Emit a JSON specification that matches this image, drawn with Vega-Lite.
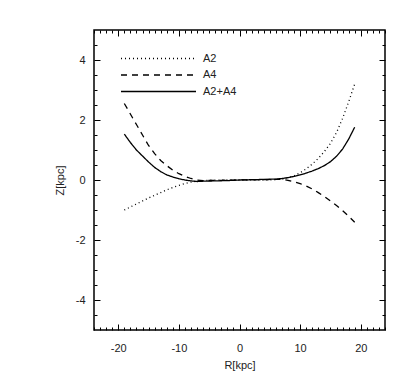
{
  "$schema": "https://vega.github.io/schema/vega-lite/v6.json",
  "autosize": {"type": "none"},
  "width": 291,
  "height": 300,
  "padding": {"left": 94, "top": 30, "right": 30, "bottom": 60},
  "background": "white",
  "config": {
    "view": {"stroke": "black", "strokeWidth": 1.5},
    "font": "Liberation Sans",
    "axis": {"domain": false, "grid": false, "labelFont": "Liberation Sans", "labelFontSize": 11, "labelColor": "#222", "titleFont": "Liberation Sans", "titleFontSize": 11, "titleFontWeight": "normal", "titleColor": "#222"}
  },
  "data": {"values": [
    {"series": "A2", "R": -19, "Z": -1.0}, {"series": "A2", "R": -18, "Z": -0.9}, {"series": "A2", "R": -17, "Z": -0.8}, {"series": "A2", "R": -16, "Z": -0.7}, {"series": "A2", "R": -15, "Z": -0.6}, {"series": "A2", "R": -14, "Z": -0.51}, {"series": "A2", "R": -13, "Z": -0.42}, {"series": "A2", "R": -12, "Z": -0.33}, {"series": "A2", "R": -11, "Z": -0.25}, {"series": "A2", "R": -10, "Z": -0.18}, {"series": "A2", "R": -9, "Z": -0.12}, {"series": "A2", "R": -8, "Z": -0.07}, {"series": "A2", "R": -7, "Z": -0.04}, {"series": "A2", "R": -6, "Z": -0.02}, {"series": "A2", "R": -5, "Z": -0.01}, {"series": "A2", "R": -3, "Z": 0.0}, {"series": "A2", "R": 0, "Z": 0.0}, {"series": "A2", "R": 3, "Z": 0.0}, {"series": "A2", "R": 5, "Z": 0.0}, {"series": "A2", "R": 6, "Z": 0.01}, {"series": "A2", "R": 7, "Z": 0.03}, {"series": "A2", "R": 8, "Z": 0.07}, {"series": "A2", "R": 9, "Z": 0.14}, {"series": "A2", "R": 10, "Z": 0.24}, {"series": "A2", "R": 11, "Z": 0.37}, {"series": "A2", "R": 12, "Z": 0.53}, {"series": "A2", "R": 13, "Z": 0.72}, {"series": "A2", "R": 14, "Z": 0.95}, {"series": "A2", "R": 15, "Z": 1.22}, {"series": "A2", "R": 16, "Z": 1.58}, {"series": "A2", "R": 17, "Z": 2.05}, {"series": "A2", "R": 18, "Z": 2.6}, {"series": "A2", "R": 19, "Z": 3.2},
    {"series": "A4", "R": -19, "Z": 2.55}, {"series": "A4", "R": -18, "Z": 2.2}, {"series": "A4", "R": -17, "Z": 1.85}, {"series": "A4", "R": -16, "Z": 1.5}, {"series": "A4", "R": -15, "Z": 1.15}, {"series": "A4", "R": -14, "Z": 0.88}, {"series": "A4", "R": -13, "Z": 0.65}, {"series": "A4", "R": -12, "Z": 0.48}, {"series": "A4", "R": -11, "Z": 0.33}, {"series": "A4", "R": -10, "Z": 0.21}, {"series": "A4", "R": -9, "Z": 0.12}, {"series": "A4", "R": -8, "Z": 0.05}, {"series": "A4", "R": -7, "Z": 0.0}, {"series": "A4", "R": -6, "Z": -0.02}, {"series": "A4", "R": -3, "Z": -0.01}, {"series": "A4", "R": 0, "Z": 0.0}, {"series": "A4", "R": 3, "Z": 0.01}, {"series": "A4", "R": 6, "Z": 0.02}, {"series": "A4", "R": 7, "Z": 0.02}, {"series": "A4", "R": 8, "Z": -0.01}, {"series": "A4", "R": 9, "Z": -0.06}, {"series": "A4", "R": 10, "Z": -0.12}, {"series": "A4", "R": 11, "Z": -0.2}, {"series": "A4", "R": 12, "Z": -0.3}, {"series": "A4", "R": 13, "Z": -0.42}, {"series": "A4", "R": 14, "Z": -0.55}, {"series": "A4", "R": 15, "Z": -0.7}, {"series": "A4", "R": 16, "Z": -0.85}, {"series": "A4", "R": 17, "Z": -1.02}, {"series": "A4", "R": 18, "Z": -1.21}, {"series": "A4", "R": 19, "Z": -1.41},
    {"series": "A2+A4", "R": -19, "Z": 1.53}, {"series": "A2+A4", "R": -18, "Z": 1.25}, {"series": "A2+A4", "R": -17, "Z": 1.0}, {"series": "A2+A4", "R": -16, "Z": 0.8}, {"series": "A2+A4", "R": -15, "Z": 0.6}, {"series": "A2+A4", "R": -14, "Z": 0.42}, {"series": "A2+A4", "R": -13, "Z": 0.28}, {"series": "A2+A4", "R": -12, "Z": 0.17}, {"series": "A2+A4", "R": -11, "Z": 0.1}, {"series": "A2+A4", "R": -10, "Z": 0.04}, {"series": "A2+A4", "R": -9, "Z": 0.0}, {"series": "A2+A4", "R": -8, "Z": -0.03}, {"series": "A2+A4", "R": -7, "Z": -0.05}, {"series": "A2+A4", "R": -6, "Z": -0.04}, {"series": "A2+A4", "R": -4, "Z": -0.03}, {"series": "A2+A4", "R": -2, "Z": -0.02}, {"series": "A2+A4", "R": 0, "Z": 0.0}, {"series": "A2+A4", "R": 2, "Z": 0.01}, {"series": "A2+A4", "R": 4, "Z": 0.02}, {"series": "A2+A4", "R": 6, "Z": 0.03}, {"series": "A2+A4", "R": 7, "Z": 0.05}, {"series": "A2+A4", "R": 8, "Z": 0.08}, {"series": "A2+A4", "R": 9, "Z": 0.12}, {"series": "A2+A4", "R": 10, "Z": 0.17}, {"series": "A2+A4", "R": 11, "Z": 0.23}, {"series": "A2+A4", "R": 12, "Z": 0.3}, {"series": "A2+A4", "R": 13, "Z": 0.38}, {"series": "A2+A4", "R": 14, "Z": 0.48}, {"series": "A2+A4", "R": 15, "Z": 0.61}, {"series": "A2+A4", "R": 16, "Z": 0.79}, {"series": "A2+A4", "R": 17, "Z": 1.03}, {"series": "A2+A4", "R": 18, "Z": 1.36}, {"series": "A2+A4", "R": 19, "Z": 1.76}
  ]},
  "layer": [
    {
      "mark": {"type": "line", "color": "black", "clip": true},
      "encoding": {
        "x": {"field": "R", "type": "quantitative", "scale": {"domain": [-24, 24], "nice": false, "zero": false},
          "axis": {"orient": "bottom", "title": "R[kpc]", "titlePadding": 6, "offset": -6, "ticks": true, "tickSize": 6, "tickColor": "black", "tickWidth": 1,
            "values": [-20, -10, 0, 10, 20],
            "labelExpr": "'' + datum.value",
            "labelPadding": 12, "labelFlush": false, "labelOverlap": false}},
        "y": {"field": "Z", "type": "quantitative", "scale": {"domain": [-5, 5], "nice": false, "zero": false},
          "axis": {"orient": "left", "title": "Z[kpc]", "titlePadding": 10, "offset": -6, "ticks": true, "tickSize": 6, "tickColor": "black", "tickWidth": 1,
            "values": [-4, -2, 0, 2, 4],
            "labelExpr": "'' + datum.value",
            "labelPadding": 9, "labelFlush": false, "labelOverlap": false}},
        "strokeDash": {"field": "series", "type": "nominal",
          "scale": {"domain": ["A2", "A4", "A2+A4"], "range": [[1, 3], [6, 5], [1, 0]]},
          "legend": {"title": null, "orient": "none", "legendX": 59, "legendY": 23, "symbolType": "M-15,0H15", "symbolSize": 25, "symbolStrokeWidth": 1, "symbolStrokeColor": "black", "rowPadding": 4.5, "labelOffset": 39, "labelFont": "Liberation Sans", "labelFontSize": 11, "labelColor": "#222", "padding": 0}},
        "strokeWidth": {"field": "series", "type": "nominal",
          "scale": {"domain": ["A2", "A4", "A2+A4"], "range": [1.3, 1.3, 3]}, "legend": null},
        "order": {"field": "R", "type": "quantitative"}
      }
    },
    {
      "mark": {"type": "point", "opacity": 0},
      "encoding": {
        "x": {"field": "R", "type": "quantitative", "scale": {"domain": [-24, 24], "nice": false, "zero": false},
          "axis": {"orient": "top", "title": null, "labels": false, "offset": -6, "ticks": true, "tickSize": 6, "tickColor": "black", "tickWidth": 1,
            "values": [-20, -10, 0, 10, 20]}},
        "y": {"field": "Z", "type": "quantitative", "scale": {"domain": [-5, 5], "nice": false, "zero": false},
          "axis": {"orient": "right", "title": null, "labels": false, "offset": -6, "ticks": true, "tickSize": 6, "tickColor": "black", "tickWidth": 1,
            "values": [-4, -2, 0, 2, 4]}}
      }
    },
    {
      "mark": {"type": "point", "opacity": 0},
      "encoding": {
        "x": {"field": "R", "type": "quantitative", "scale": {"domain": [-24, 24], "nice": false, "zero": false},
          "axis": {"orient": "bottom", "title": null, "labels": false, "offset": -3, "ticks": true, "tickSize": 3, "tickColor": "black", "tickWidth": 1,
            "values": [-24,-23,-22,-21,-19,-18,-17,-16,-15,-14,-13,-12,-11,-9,-8,-7,-6,-5,-4,-3,-2,-1,1,2,3,4,5,6,7,8,9,11,12,13,14,15,16,17,18,19,21,22,23,24]}},
        "y": {"field": "Z", "type": "quantitative", "scale": {"domain": [-5, 5], "nice": false, "zero": false},
          "axis": {"orient": "left", "title": null, "labels": false, "offset": -3, "ticks": true, "tickSize": 3, "tickColor": "black", "tickWidth": 1,
            "values": [-4.5,-3.5,-3,-2.5,-1.5,-1,-0.5,0.5,1,1.5,2.5,3,3.5,4.5]}}
      }
    },
    {
      "mark": {"type": "point", "opacity": 0},
      "encoding": {
        "x": {"field": "R", "type": "quantitative", "scale": {"domain": [-24, 24], "nice": false, "zero": false},
          "axis": {"orient": "top", "title": null, "labels": false, "offset": -3, "ticks": true, "tickSize": 3, "tickColor": "black", "tickWidth": 1,
            "values": [-24,-23,-22,-21,-19,-18,-17,-16,-15,-14,-13,-12,-11,-9,-8,-7,-6,-5,-4,-3,-2,-1,1,2,3,4,5,6,7,8,9,11,12,13,14,15,16,17,18,19,21,22,23,24]}},
        "y": {"field": "Z", "type": "quantitative", "scale": {"domain": [-5, 5], "nice": false, "zero": false},
          "axis": {"orient": "right", "title": null, "labels": false, "offset": -3, "ticks": true, "tickSize": 3, "tickColor": "black", "tickWidth": 1,
            "values": [-4.5,-3.5,-3,-2.5,-1.5,-1,-0.5,0.5,1,1.5,2.5,3,3.5,4.5]}}
      }
    }
  ],
  "resolve": {"axis": {"x": "independent", "y": "independent"}}
}
